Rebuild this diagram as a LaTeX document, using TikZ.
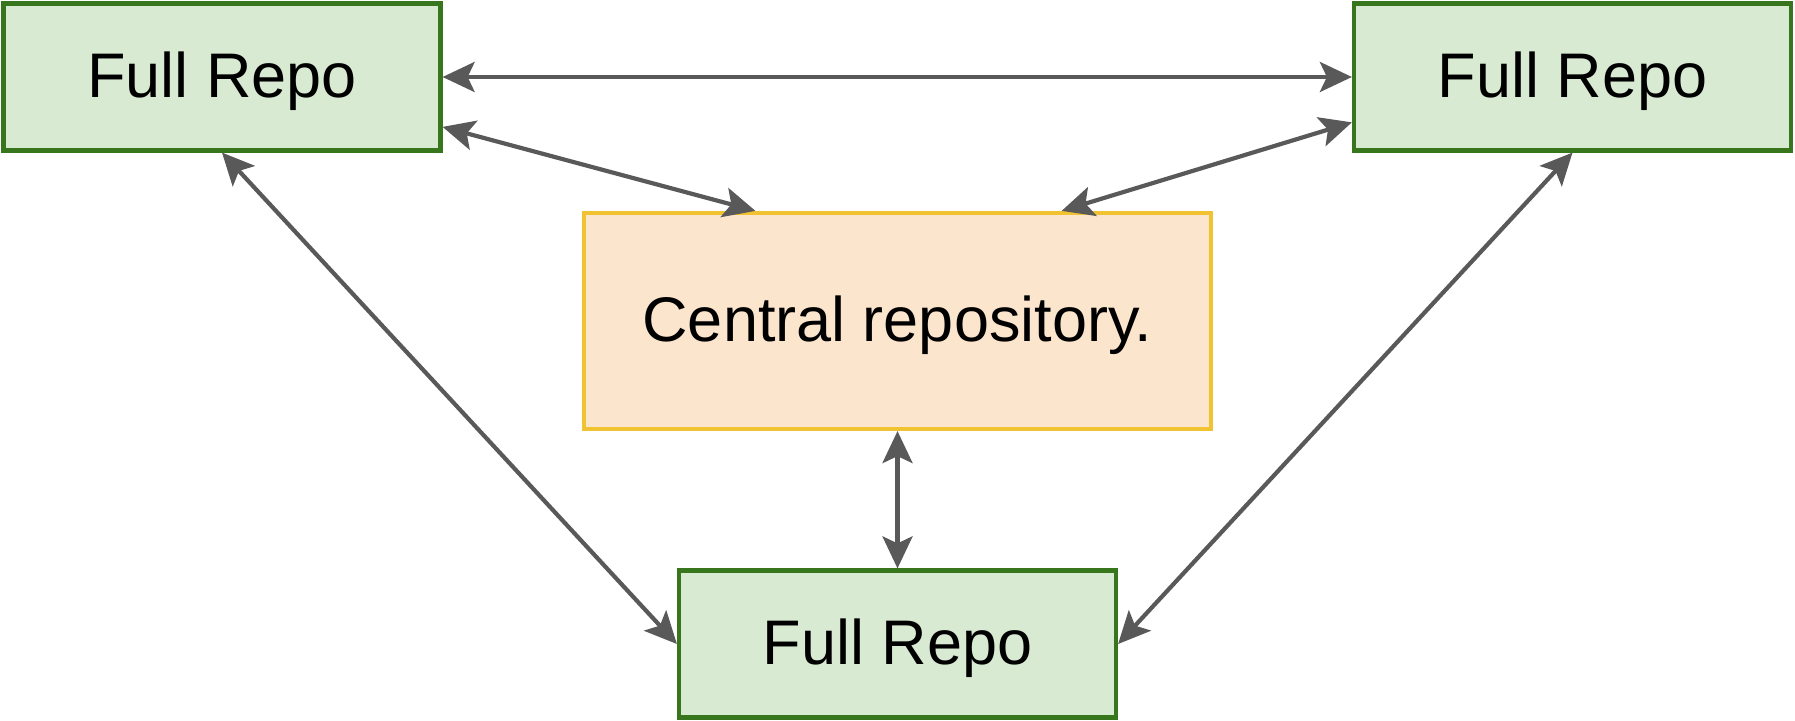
\documentclass[tikz,border=0pt]{standalone}
\usepackage{fontspec}
\setmainfont{Liberation Sans}
\usetikzlibrary{arrows.meta,positioning,calc}

\definecolor{repofill}{HTML}{D9EAD3}
\definecolor{repoline}{HTML}{38761D}
\definecolor{cenfill}{HTML}{FCE5CD}
\definecolor{cenline}{HTML}{F1C232}
\definecolor{arrgray}{HTML}{595959}

\begin{document}
\begin{tikzpicture}[
  x=0.5pt,y=-0.5pt,
  repo/.style={draw=repoline,fill=repofill,line width=2.1pt,minimum width=218.5pt,minimum height=73.5pt,inner sep=0pt,text depth=2pt,font=\fontsize{31.5}{37}\selectfont},
  central/.style={repo,draw=cenline,fill=cenfill,minimum width=313.5pt,minimum height=108pt},
  arr/.style={{Stealth[length=16pt,width=15pt,inset=3.5pt]}-{Stealth[length=16pt,width=15pt,inset=3.5pt]},draw=arrgray,fill=arrgray,line width=2.1pt}
]
\useasboundingbox (0,0) rectangle (1795,721);
\node[repo] (tl) at (222,77) {Full Repo};
\node[repo] (tr) at (1572.5,77) {Full Repo};
\node[central] (cen) at (897.5,321) {Central repository.};
\node[repo] (bot) at (897.5,644) {Full Repo};
\draw[arr] (tl.east)--(tr.west);
\draw[arr] ($(tl.north east)!0.83!(tl.south east)$)--($(cen.north west)!0.275!(cen.north east)$);
\draw[arr] ($(tr.north west)!0.8!(tr.south west)$)--($(cen.north west)!0.76!(cen.north east)$);
\draw[arr] (tl.south)--(bot.west);
\draw[arr] (tr.south)--(bot.east);
\draw[arr] (cen.south)--(bot.north);
\end{tikzpicture}
\end{document}
